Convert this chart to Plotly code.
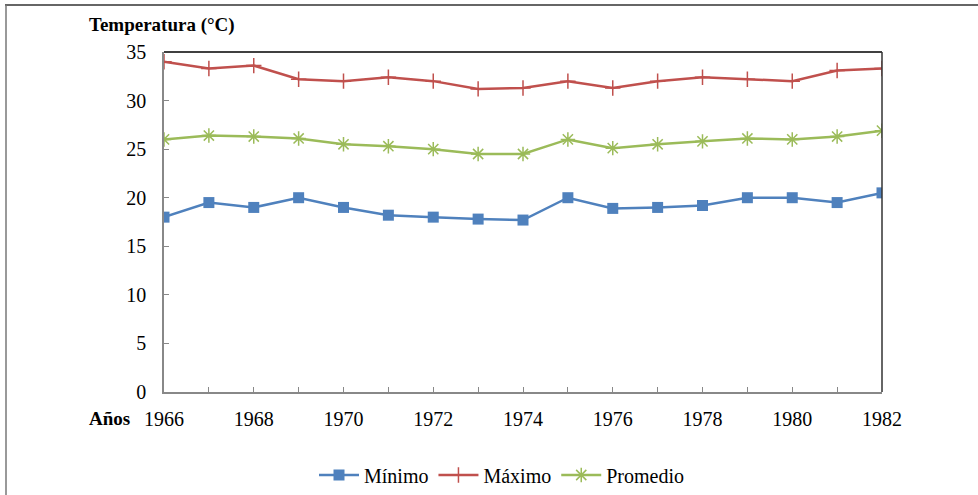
import plotly.graph_objects as go

years = list(range(1966, 1983))
minimo = [18.0, 19.5, 19.0, 20.0, 19.0, 18.2, 18.0, 17.8, 17.7, 20.0, 18.9, 19.0, 19.2, 20.0, 20.0, 19.5, 20.5]
maximo = [34.0, 33.3, 33.6, 32.2, 32.0, 32.4, 32.0, 31.2, 31.3, 32.0, 31.3, 32.0, 32.4, 32.2, 32.0, 33.1, 33.3]
promedio = [26.0, 26.4, 26.3, 26.1, 25.5, 25.3, 25.0, 24.5, 24.5, 26.0, 25.1, 25.5, 25.8, 26.1, 26.0, 26.3, 26.9]
x_labels = [str(y) if (y - 1966) % 2 == 0 else "" for y in years]
y_ticks = [0, 5, 10, 15, 20, 25, 30, 35]

FONT = "Liberation Serif, Times New Roman, DejaVu Serif, serif"
L, R, T, B = 164, 882, 52, 392
W, H = 978, 495

fig = go.Figure()
fig.add_trace(go.Scatter(x=years, y=minimo, name="Mínimo", mode="lines+markers",
                         line=dict(color="#4F81BD", width=2.5),
                         marker=dict(symbol="square", size=11, color="#4F81BD")))
fig.add_trace(go.Scatter(x=years, y=maximo, name="Máximo", mode="lines+markers",
                         line=dict(color="#C0504D", width=2.5),
                         marker=dict(symbol="cross-thin", size=11, line=dict(color="#C0504D", width=1.5))))
fig.add_trace(go.Scatter(x=years, y=promedio, name="Promedio", mode="lines+markers",
                         line=dict(color="#9BBB59", width=2.5),
                         marker=dict(symbol="asterisk-open", size=12, line=dict(color="#9BBB59", width=1.5))))

pw, ph = R - L, B - T
def px(x): return (x - L) / pw
def py(y): return (B - y) / ph

fig.update_layout(
    width=W, height=H,
    margin=dict(l=L, r=W - R, t=T, b=H - B, autoexpand=False),
    paper_bgcolor="white", plot_bgcolor="white",
    font=dict(family=FONT, color="black", size=20),
    showlegend=True,
    legend=dict(orientation="h", x=px(502), xanchor="center", y=py(475), yanchor="middle",
                font=dict(family=FONT, size=20), itemwidth=40, traceorder="normal"),
    xaxis=dict(range=[1966, 1982], tickvals=years, ticktext=x_labels, ticks="inside",
               ticklen=5, tickcolor="#888", showline=True, linecolor="#888", linewidth=1.5,
               showgrid=False, zeroline=False, ticklabelstandoff=8,
               tickfont=dict(family=FONT, size=20)),
    yaxis=dict(range=[0, 35], tickvals=y_ticks, ticks="inside", ticklen=5, tickcolor="#888",
               showline=True, linecolor="#888", linewidth=1.5, showgrid=False, zeroline=False,
               ticklabelstandoff=12, tickfont=dict(family=FONT, size=20)),
    shapes=[
        dict(type="line", xref="paper", yref="paper", x0=0, x1=1, y0=1, y1=1,
             line=dict(color="black", width=1.5)),
        dict(type="line", xref="paper", yref="paper", x0=1, x1=1, y0=0, y1=1,
             line=dict(color="#333", width=1.5)),
        dict(type="line", xref="paper", yref="paper", x0=px(5), x1=px(990), y0=py(5), y1=py(5),
             line=dict(color="#666", width=2)),
        dict(type="line", xref="paper", yref="paper", x0=px(6), x1=px(6), y0=py(5), y1=py(505),
             line=dict(color="#777", width=1.5)),
    ],
    annotations=[
        dict(text="<b>Temperatura (°C)</b>", xref="paper", yref="paper", x=px(87), y=py(25),
             xanchor="left", yanchor="middle", showarrow=False, font=dict(family=FONT, size=19)),
        dict(text="<b>Años</b>", xref="paper", yref="paper", x=px(87), y=py(418),
             xanchor="left", yanchor="middle", showarrow=False, font=dict(family=FONT, size=19)),
    ],
)
fig.write_html("out.html", config={"displayModeBar": False},
               post_script="document.body.style.margin='0';document.body.style.overflow='hidden';")
